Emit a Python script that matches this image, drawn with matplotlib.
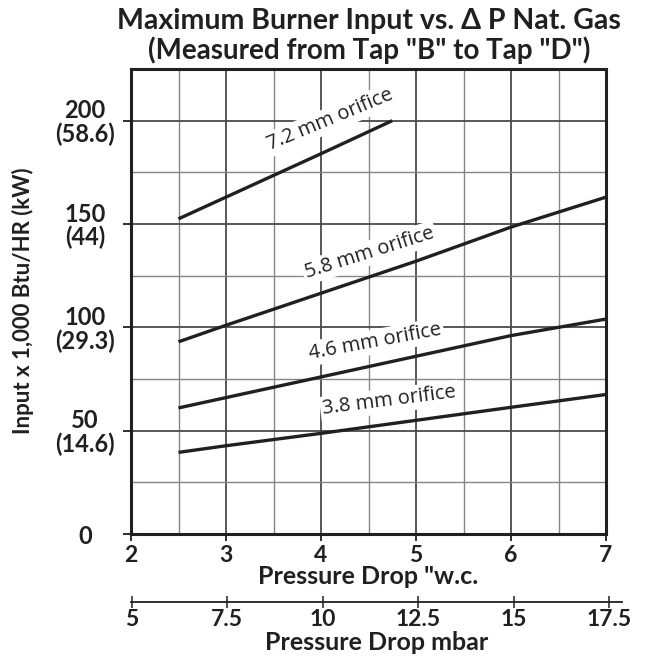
import matplotlib
matplotlib.use('Agg')
import matplotlib.pyplot as plt
from matplotlib.ticker import MultipleLocator

# values: pressure drop ("w.c.) vs input (x 1,000 Btu/HR)
orifices = ['7.2 mm orifice', '5.8 mm orifice', '4.6 mm orifice', '3.8 mm orifice']
dp_72 = [2.5, 3, 4, 4.75]
q_72 = [152.5, 163, 184, 200]
dp_58 = [2.5, 3, 4, 5, 6, 7]
q_58 = [93, 101, 116.5, 132, 148.5, 163]
dp_46 = [2.5, 3, 4, 5, 6, 7]
q_46 = [61, 66, 76, 86, 96, 104]
dp_38 = [2.5, 3, 4, 5, 6, 7]
q_38 = [39.5, 42.7, 48.7, 55, 61.3, 67.5]

ytick_btu = [0, 50, 100, 150, 200]
ytick_kw = ['', '14.6', '29.3', '44', '58.6']
xtick_wc = [2, 3, 4, 5, 6, 7]
xtick_mbar = [5, 7.5, 10, 12.5, 15, 17.5]
mbar_per_wc = 2.4884

# label placement (data coords) and angle
label_xy = [(4.10, 200.5), (4.51, 136), (4.57, 93), (4.72, 64.5)]
label_rot = [22.5, 17.5, 10.5, 7.2]

ink = '#231f20'
W = 'bold'
plt.rcParams['font.family'] = ['Lato', 'DejaVu Sans']

fig = plt.figure(figsize=(6.49, 6.58), dpi=100)
ax = fig.add_axes([131/649, 1 - 534/658, 475/649, 465/658])

ax.set_xlim(2, 7)
ax.set_ylim(0, 225)
ax.xaxis.set_major_locator(MultipleLocator(1))
ax.xaxis.set_minor_locator(MultipleLocator(0.5))
ax.yaxis.set_major_locator(MultipleLocator(50))
ax.yaxis.set_minor_locator(MultipleLocator(25))
ax.grid(which='minor', color='#858585', lw=1.0)
ax.grid(which='major', color='#4a4a4a', lw=1.3)
ax.set_axisbelow(True)

for s in ax.spines.values():
    s.set_linewidth(2.2)
    s.set_color(ink)

series = [(dp_72, q_72), (dp_58, q_58), (dp_46, q_46), (dp_38, q_38)]
for (x, y), name, (lx, ly), rot in zip(series, orifices, label_xy, label_rot):
    ax.plot(x, y, color=ink, lw=2.4, solid_capstyle='butt', zorder=3)
    ax.text(lx, ly, name, rotation=rot, ha='center', va='center',
            fontsize=14.5, family=['Open Sans', 'DejaVu Sans'], color=ink,
            rotation_mode='anchor', zorder=2,
            bbox=dict(boxstyle='square,pad=0.12', fc='white', ec='none'))

ax.set_xticks(xtick_wc)
ax.set_xticklabels([str(v) for v in xtick_wc], fontsize=16.5, fontweight=W, color=ink)
ax.set_yticks(ytick_btu)
ylabels = [str(b) if k == '' else f'{b}\n({k})' for b, k in zip(ytick_btu, ytick_kw)]
ax.set_yticklabels(ylabels, fontsize=17, fontweight=W, color=ink,
                   ha='center', multialignment='center', linespacing=1.0)
ax.tick_params(axis='y', which='major', direction='out', length=6, width=1.3,
               pad=27, color=ink)
ax.tick_params(axis='x', which='major', direction='out', length=5, width=1.3,
               pad=3, color=ink)
ax.tick_params(which='minor', length=0)

ax.set_xlabel('Pressure Drop "w.c.', fontsize=18, fontweight=W,
              color=ink, labelpad=-1)
fig.text(23/649, 1 - 301/658, 'Input x 1,000 Btu/HR (kW)', rotation=90,
         ha='center', va='center', fontsize=16, fontweight=W, color=ink)

fig.text(369/649, 1 - 21/658, 'Maximum Burner Input vs. \u0394 P Nat. Gas',
         ha='center', va='center', fontsize=20.5, fontweight=W, color=ink)
fig.text(369/649, 1 - 50/658, '(Measured from Tap "B" to Tap "D")',
         ha='center', va='center', fontsize=20, fontweight=W, color=ink)

# second scale in mbar
pos = ax.get_position()
ext = 7.17
ax2 = fig.add_axes([pos.x0, 1 - 602/658, pos.width * (ext - 2) / 5, 1e-4])
ax2.set_xlim(2 * mbar_per_wc, ext * mbar_per_wc)
for side in ['top', 'left', 'right']:
    ax2.spines[side].set_visible(False)
ax2.spines['bottom'].set_linewidth(1.3)
ax2.spines['bottom'].set_color(ink)
ax2.set_yticks([])
ax2.set_xticks(xtick_mbar)
ax2.set_xticklabels([f'{v:g}' for v in xtick_mbar], fontsize=16.5,
                    fontweight=W, color=ink)
ax2.tick_params(axis='x', direction='inout', length=8, width=1.1, pad=1, color=ink)
ax2.set_xlabel('Pressure Drop mbar', fontsize=18, fontweight=W,
               color=ink, labelpad=0.5)
ax2.patch.set_visible(False)

fig.savefig('out.png', dpi=100, facecolor='white')
